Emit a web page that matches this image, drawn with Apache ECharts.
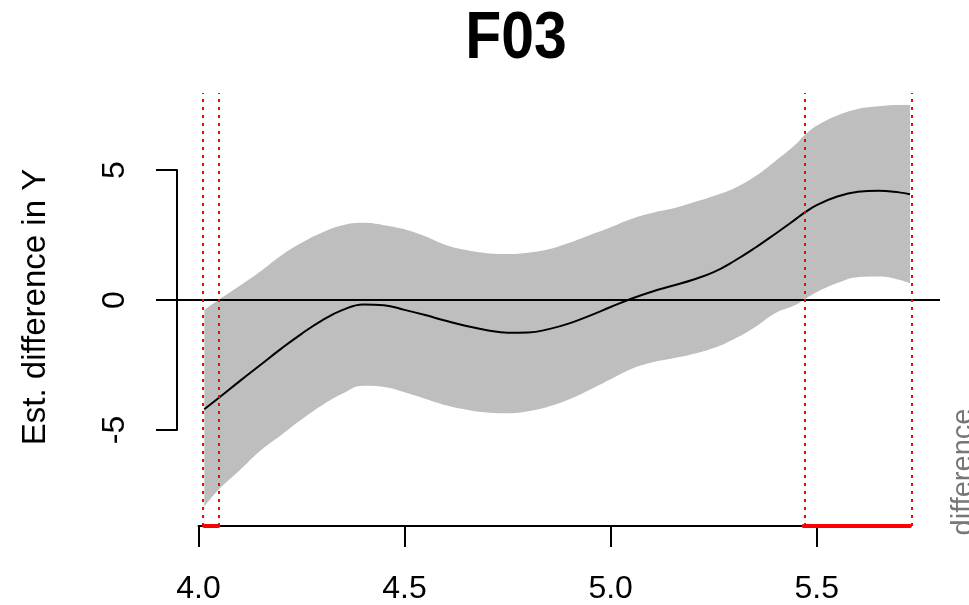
<!DOCTYPE html>
<html>
<head>
<meta charset="utf-8">
<script src="https://cdn.jsdelivr.net/npm/echarts@6/dist/echarts.min.js"></script>
<style>html,body{margin:0;padding:0;background:#fff;}#c{width:969px;height:605px;}</style>
</head>
<body>
<div id="c"></div>
<script>
// ---- data ----
const xs = [4.014, 4.048, 4.1, 4.15, 4.2, 4.25, 4.3, 4.35, 4.4, 4.45, 4.5, 4.55, 4.6, 4.65, 4.7, 4.75, 4.8, 4.85, 4.9, 4.95, 5.0, 5.05, 5.1, 5.15, 5.2, 5.25, 5.3, 5.35, 5.4, 5.45, 5.468, 5.5, 5.55, 5.6, 5.65, 5.7, 5.7265];
const meanVals = [-4.2, -3.78, -3.12, -2.5, -1.88, -1.3, -0.78, -0.38, -0.17, -0.2, -0.38, -0.58, -0.8, -1.0, -1.16, -1.26, -1.25, -1.12, -0.9, -0.6, -0.27, 0.05, 0.32, 0.55, 0.78, 1.07, 1.5, 2.0, 2.55, 3.12, 3.33, 3.65, 3.98, 4.16, 4.2, 4.14, 4.07];
const upperVals = [-0.38, 0.0, 0.55, 1.1, 1.7, 2.2, 2.6, 2.88, 2.97, 2.88, 2.72, 2.45, 2.12, 1.92, 1.8, 1.77, 1.82, 1.95, 2.2, 2.5, 2.8, 3.12, 3.35, 3.52, 3.75, 4.0, 4.3, 4.75, 5.35, 6.0, 6.3, 6.7, 7.1, 7.35, 7.45, 7.5, 7.5];
const lowerVals = [-7.95, -7.31, -6.55, -5.8, -5.2, -4.6, -4.05, -3.6, -3.3, -3.35, -3.55, -3.8, -4.05, -4.22, -4.33, -4.36, -4.28, -4.1, -3.82, -3.45, -3.05, -2.65, -2.4, -2.25, -2.08, -1.85, -1.5, -1.05, -0.5, -0.18, 0.0, 0.3, 0.65, 0.88, 0.9, 0.78, 0.64];
const sigRegions = [[4.014, 4.048], [5.468, 5.7265]];
const sigBounds = [4.014, 4.048, 5.468, 5.7265];
const xTickLabels = ['4.0', '4.5', '5.0', '5.5'];
const yTickValues = [-5, 0, 5];
const titleText = 'F03';
const yTitle = 'Est. difference in Y';
const sideText = 'difference';

// ---- axis ranges ----
const X_MIN = 3.9478, X_MAX = 5.7993;
const Y_MIN = -8.692, Y_MAX = 7.962;

const chart = echarts.init(document.getElementById('c'), null, {renderer: 'canvas'});

const lineData = (vals) => xs.map((x, i) => [x, vals[i]]);
const SMOOTH = 0.45;

const rugSeries = sigRegions.map(r => ({
  type: 'line', xAxisIndex: 0, yAxisIndex: 0,
  data: [[r[0], Y_MIN], [r[1], Y_MIN]],
  symbol: 'none', clip: false, silent: true, z: 6,
  lineStyle: {color: '#FF0000', width: 4, cap: 'round'}
}));

const option = {
  animation: false,
  backgroundColor: '#ffffff',
  textStyle: {fontFamily: 'Liberation Sans, Arial, sans-serif'},
  grid: [
    {left: 177, top: 93, width: 763, height: 433},
    {left: 177, top: 170, width: 10, height: 260},
    {left: 198.5, top: 500, width: 618.2, height: 26}
  ],
  xAxis: [
    {gridIndex: 0, type: 'value', min: X_MIN, max: X_MAX, show: false},
    {gridIndex: 1, type: 'value', min: 0, max: 1, show: false},
    {gridIndex: 2, type: 'value', min: 4, max: 5.5, interval: 0.5, position: 'bottom', z: 5,
     axisLine: {show: true, onZero: false, lineStyle: {color: '#000', width: 2}},
     axisTick: {show: true, length: 21, lineStyle: {color: '#000', width: 2}},
     splitLine: {show: false},
     axisLabel: {show: true, margin: 47, fontSize: 32, color: '#000', fontFamily: 'Liberation Sans',
       formatter: (v) => xTickLabels[Math.round((v - 4) / 0.5)] || ''}}
  ],
  yAxis: [
    {gridIndex: 0, type: 'value', min: Y_MIN, max: Y_MAX, show: false},
    {gridIndex: 1, type: 'value', min: yTickValues[0], max: yTickValues[2], interval: 5, position: 'left', z: 5,
     axisLine: {show: true, onZero: false, lineStyle: {color: '#000', width: 2}},
     axisTick: {show: true, length: 21, lineStyle: {color: '#000', width: 2}},
     splitLine: {show: false},
     axisLabel: {show: true, rotate: 90, margin: 46, fontSize: 32, color: '#000', fontFamily: 'Liberation Sans'}},
    {gridIndex: 2, type: 'value', min: 0, max: 1, show: false}
  ],
  graphic: [
    {type: 'text', x: 516, y: 40, scaleX: 0.88, z: 10,
     style: {text: titleText, font: 'bold 67px "Liberation Sans"', fill: '#000', textAlign: 'center', textVerticalAlign: 'middle'}},
    {type: 'text', x: 36, y: 307, rotation: Math.PI / 2, z: 10,
     style: {text: yTitle, font: '33px "Liberation Sans"', fill: '#000', textAlign: 'center', textVerticalAlign: 'middle'}},
    {type: 'text', x: 964, y: 472, rotation: Math.PI / 2, z: 10,
     style: {text: sideText, font: '29px "Liberation Sans"', fill: '#777', textAlign: 'center', textVerticalAlign: 'middle'}}
  ],
  series: [
    {type: 'line', name: 'upper', xAxisIndex: 0, yAxisIndex: 0, data: lineData(upperVals),
     symbol: 'none', smooth: SMOOTH, silent: true, z: 1,
     lineStyle: {width: 0, opacity: 0}, areaStyle: {color: '#BEBEBE', opacity: 1, origin: 'start'}},
    {type: 'line', name: 'lower', xAxisIndex: 0, yAxisIndex: 0, data: lineData(lowerVals),
     symbol: 'none', smooth: SMOOTH, silent: true, z: 2,
     lineStyle: {width: 0, opacity: 0}, areaStyle: {color: '#FFFFFF', opacity: 1, origin: 'start'}},
    {type: 'line', name: 'mean', xAxisIndex: 0, yAxisIndex: 0, data: lineData(meanVals),
     symbol: 'none', smooth: SMOOTH, silent: true, z: 3,
     lineStyle: {color: '#000', width: 2},
     markLine: {silent: true, symbol: 'none', label: {show: false},
       lineStyle: {color: '#000', width: 2, type: 'solid'},
       data: [{yAxis: 0}]}},
    {type: 'line', name: 'bounds', xAxisIndex: 0, yAxisIndex: 0, data: [],
     symbol: 'none', silent: true, z: 7,
     markLine: {silent: true, symbol: 'none', label: {show: false}, z: 7,
       lineStyle: {color: '#FF0000', width: 2, type: [3, 5]},
       data: sigBounds.map(v => ({xAxis: v}))}}
  ].concat(rugSeries)
};
chart.setOption(option);
</script>
</body>
</html>
